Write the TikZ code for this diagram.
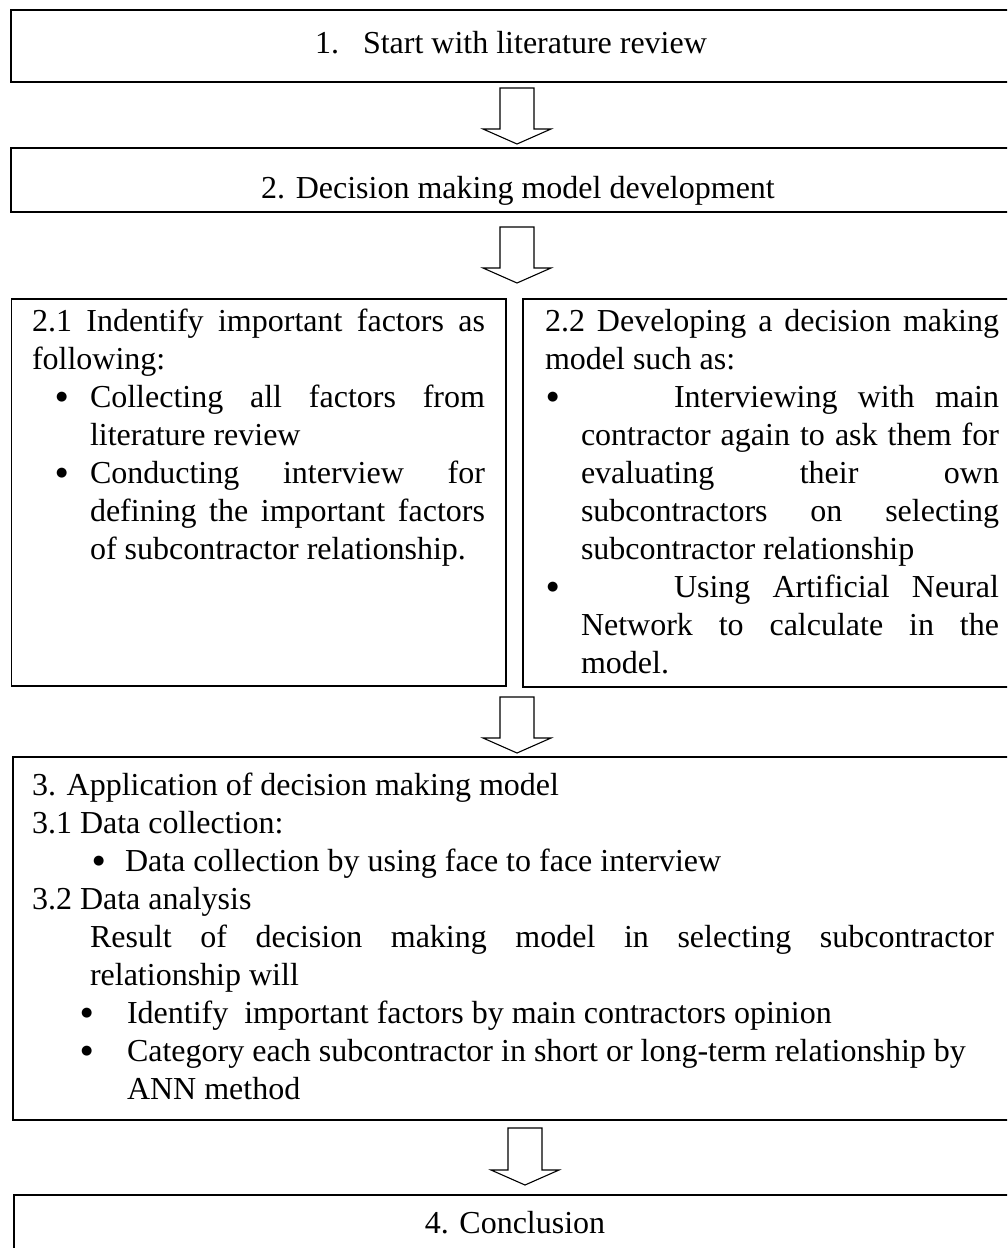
\documentclass[tikz,border=0pt]{standalone}
\usepackage{fontspec}
\setmainfont{Liberation Serif}
\newfontfamily\symfont{DejaVu Sans}
\usetikzlibrary{calc}

% hollow block arrow: #1 = top of the shaft, #2 = tip
\newcommand\blockarrow[2]{%
  \draw[arrowline] let \p1=(#1), \p2=(#2) in
    (\x1-17pt,\y1) -- (\x1+17pt,\y1) -- (\x1+17pt,\y2+15pt) -- (\x1+34pt,\y2+15pt)
    -- (\x1,\y2) -- (\x1-34pt,\y2+15pt) -- (\x1-17pt,\y2+15pt) -- cycle;}

% list bullet
\newcommand\bigbullet{{\symfont\fontsize{13}{13}\selectfont ●}}

\begin{document}
\begin{tikzpicture}[x=1pt,y=-1pt,
  every node/.style={inner sep=0pt, outer sep=0pt, font=\fontsize{32}{38}\selectfont},
  frame/.style={draw=black, line width=1.5pt, anchor=north west, rectangle},
  txt/.style={anchor=base west},
  ctxt/.style={anchor=base},
  dot/.style={anchor=base west, yshift=6.5pt},
  arrowline/.style={draw=black, line width=1.1pt, line join=miter, fill=white}]

\useasboundingbox (0,0) rectangle (1007,1248);
\clip (0,0) rectangle (1007,1248);
\fill[white] (0,0) rectangle (1007,1248);

% stage boxes
\node[frame, minimum width=1020pt, minimum height=72pt]  (b1)  at (11,10)    {};
\node[frame, minimum width=1020pt, minimum height=64pt]  (b2)  at (11,148)   {};
\node[frame, minimum width=494.5pt, minimum height=387pt] (b21) at (11.5,299) {};
\node[frame, minimum width=500pt, minimum height=388pt]  (b22) at (523,299)  {};
\node[frame, minimum width=1020pt, minimum height=363pt] (b3)  at (13,757)   {};
\node[frame, minimum width=1020pt, minimum height=100pt] (b4)  at (14,1195)  {};

% 1
\node[txt] (t1n) at (315,53) {1.};
\node[txt] (t1)  at (363,53) {Start with literature review};

% 2
\node[ctxt] (t2) at (518,198) {2. Decision making model development};

% 2.1
\node[txt] (l1) at (32,331) {\makebox[453pt][s]{2.1 Indentify important factors as}};
\node[txt] (l2) at (32,369) {following:};
\node[dot] (l3b) at (56,407) {\bigbullet};
\node[txt] (l3) at (90,407) {\makebox[395pt][s]{Collecting all factors from}};
\node[txt] (l4) at (90,445) {literature review};
\node[dot] (l5b) at (56,483) {\bigbullet};
\node[txt] (l5) at (90,483) {\makebox[395pt][s]{Conducting interview for}};
\node[txt] (l6) at (90,521) {\makebox[395pt][s]{defining the important factors}};
\node[txt] (l7) at (90,559) {of subcontractor relationship.};

% 2.2
\node[txt] (r1) at (545,331) {\makebox[454pt][s]{2.2 Developing a decision making}};
\node[txt] (r2) at (545,369) {model such as:};
\node[dot] (r3b) at (547,407) {\bigbullet};
\node[txt] (r3) at (674,407) {\makebox[325pt][s]{Interviewing with main}};
\node[txt] (r4) at (581,445) {\makebox[418pt][s]{contractor again to ask them for}};
\node[txt] (r5) at (581,483) {\makebox[418pt][s]{evaluating their own}};
\node[txt] (r6) at (581,521) {\makebox[418pt][s]{subcontractors on selecting}};
\node[txt] (r7) at (581,559) {subcontractor relationship};
\node[dot] (r8b) at (547,597) {\bigbullet};
\node[txt] (r8) at (674,597) {\makebox[325pt][s]{Using Artificial Neural}};
\node[txt] (r9) at (581,635) {\makebox[418pt][s]{Network to calculate in the}};
\node[txt] (r10) at (581,673) {model.};

% 3
\node[txt] (s1) at (32,795) {3. Application of decision making model};
\node[txt] (s2) at (32,833) {3.1 Data collection:};
\node[dot] (s3b) at (93,871) {\bigbullet};
\node[txt] (s3) at (125,871) {Data collection by using face to face interview};
\node[txt] (s4) at (32,909) {3.2 Data analysis};
\node[txt] (s5) at (90,947) {\makebox[904pt][s]{Result of decision making model in selecting subcontractor}};
\node[txt] (s6) at (90,985) {relationship will};
\node[dot] (s7b) at (81,1023) {\bigbullet};
\node[txt] (s7) at (127,1023) {Identify\ \ important factors by main contractors opinion};
\node[dot] (s8b) at (81,1061) {\bigbullet};
\node[txt] (s8) at (127,1061) {Category each subcontractor in short or long-term relationship by};
\node[txt] (s9) at (127,1099) {ANN method};

% 4
\node[ctxt] (t4) at (515,1233) {4. Conclusion};

% block arrows between stages
\coordinate (ax) at (517,0);
\coordinate (bx) at (525,0);
\coordinate (a1s) at ($(ax |- b1.south)+(0,6)$);
\coordinate (a1e) at ($(ax |- b2.north)+(0,-4)$);
\coordinate (a2s) at ($(ax |- b2.south)+(0,15)$);
\coordinate (a2e) at ($(ax |- b22.north)+(0,-16)$);
\coordinate (a3s) at ($(ax |- b22.south)+(0,10)$);
\coordinate (a3e) at ($(ax |- b3.north)+(0,-4)$);
\coordinate (a4s) at ($(bx |- b3.south)+(0,8)$);
\coordinate (a4e) at ($(bx |- b4.north)+(0,-10)$);
\blockarrow{a1s}{a1e}
\blockarrow{a2s}{a2e}
\blockarrow{a3s}{a3e}
\blockarrow{a4s}{a4e}
\end{tikzpicture}
\end{document}
